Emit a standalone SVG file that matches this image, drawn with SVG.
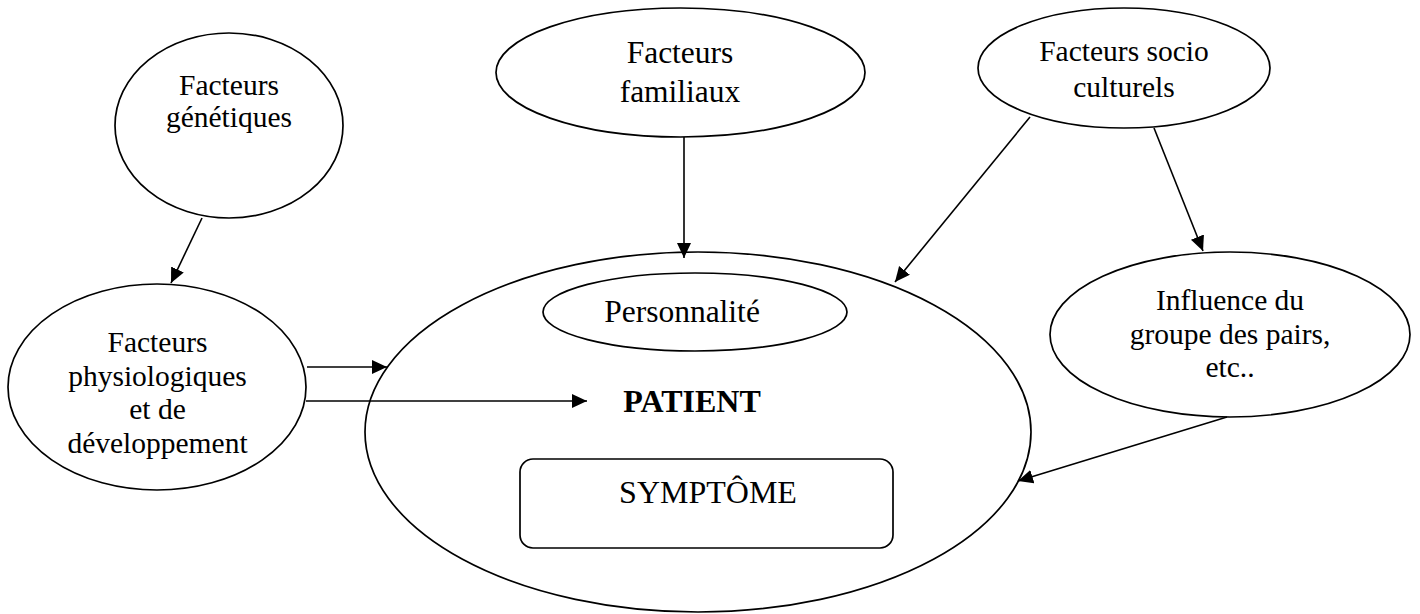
<svg xmlns="http://www.w3.org/2000/svg" width="1420" height="614" viewBox="0 0 1420 614">
  <style>
    .shape { fill: #ffffff; stroke: #000000; stroke-width: 1.7; }
    .edge { fill: none; stroke: #000000; stroke-width: 1.6; marker-end: url(#arrow); }
    text { font-family: "Liberation Serif", "Times New Roman", serif; fill: #000000; text-anchor: middle; }
    .t29 { font-size: 29.5px; }
    .t31 { font-size: 31.5px; }
    .t32 { font-size: 32px; }
    .bold { font-weight: bold; }
  </style>
  <defs>
    <marker id="arrow" markerUnits="userSpaceOnUse" markerWidth="16" markerHeight="16" refX="15" refY="7" orient="auto">
      <path d="M0,0 L15,7 L0,14 Z" fill="#000000"/>
    </marker>
  </defs>
  <rect width="1420" height="614" fill="#ffffff"/>

  <!-- central patient node with its inner parts -->
  <g id="patient">
    <ellipse class="shape" cx="698" cy="432" rx="333" ry="180"/>
    <text class="t32 bold" x="692" y="412">PATIENT</text>
  </g>
  <g id="personnalite">
    <ellipse class="shape" cx="695" cy="312" rx="152" ry="39"/>
    <text class="t31" x="682" y="322">Personnalité</text>
  </g>
  <g id="symptome">
    <rect class="shape" x="520" y="459" width="373" height="89" rx="13" ry="13"/>
    <text class="t32" x="708" y="503">SYMPTÔME</text>
  </g>

  <!-- surrounding factors -->
  <g id="genetiques">
    <ellipse class="shape" cx="229" cy="125.5" rx="114" ry="92.5"/>
    <text class="t29" x="229" y="95">Facteurs</text>
    <text class="t29" x="229" y="127">génétiques</text>
  </g>
  <g id="physiologiques">
    <ellipse class="shape" cx="157" cy="387" rx="149" ry="103"/>
    <text class="t29" x="157.5" y="352">Facteurs</text>
    <text class="t29" x="157.5" y="386">physiologiques</text>
    <text class="t29" x="157.5" y="419">et de</text>
    <text class="t29" x="157.5" y="452.5">développement</text>
  </g>
  <g id="familiaux">
    <ellipse class="shape" cx="680.5" cy="72.5" rx="184.5" ry="64.5"/>
    <text class="t31" x="680" y="63">Facteurs</text>
    <text class="t31" x="680" y="102">familiaux</text>
  </g>
  <g id="socioculturels">
    <ellipse class="shape" cx="1124" cy="68" rx="146" ry="60"/>
    <text class="t29" x="1124" y="61">Facteurs socio</text>
    <text class="t29" x="1124" y="97">culturels</text>
  </g>
  <g id="pairs">
    <ellipse class="shape" cx="1230" cy="334.5" rx="180" ry="82.5"/>
    <text class="t29" x="1230" y="310">Influence du</text>
    <text class="t29" x="1230" y="344">groupe des pairs,</text>
    <text class="t29" x="1230" y="377">etc..</text>
  </g>

  <!-- connectors -->
  <g id="connectors">
    <line class="edge" x1="202" y1="218" x2="171" y2="283"/>
    <line class="edge" x1="307" y1="367" x2="387" y2="367"/>
    <line class="edge" x1="306" y1="401" x2="587" y2="401"/>
    <line class="edge" x1="684" y1="137" x2="684" y2="258"/>
    <line class="edge" x1="1030" y1="117" x2="895" y2="282"/>
    <line class="edge" x1="1154" y1="128" x2="1203" y2="251"/>
    <line class="edge" x1="1227" y1="417" x2="1018" y2="481"/>
  </g>
</svg>
